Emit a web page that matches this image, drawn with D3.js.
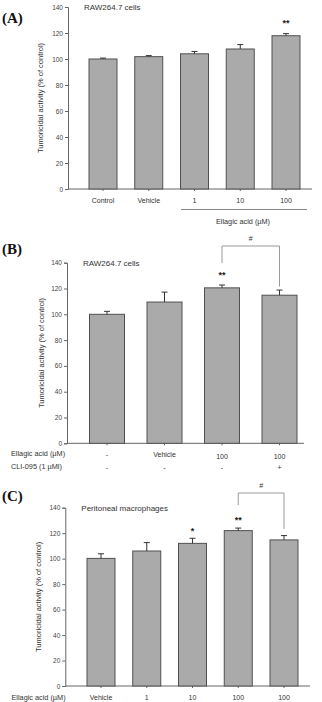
<!DOCTYPE html>
<html>
<head>
<meta charset="utf-8">
<script src="https://cdn.jsdelivr.net/npm/d3@7"></script>
<style>
  body { margin: 0; background: #fff; }
  svg { display: block; font-family: "Liberation Sans", Arial, sans-serif; }
</style>
</head>
<body>
<script>
/* global d3 */

// values
const yTicks = [0, 20, 40, 60, 80, 100, 120, 140];

const aLabels = ['Control', 'Vehicle', '1', '10', '100'];
const aMeans = [100, 101.8, 104, 107.7, 117.9];
const aErrors = [0.7, 0.8, 1.8, 3.4, 1.6];
const aSignif = ['', '', '', '', '**'];

const bEllagic = ['-', 'Vehicle', '100', '100'];
const bCli = ['-', '-', '-', '+'];
const bMeans = [100, 109.5, 120.5, 114.8];
const bErrors = [2.3, 7.7, 2.2, 4];
const bSignif = ['', '', '**', ''];

const cLabels = ['Vehicle', '1', '10', '100', '100'];
const cMeans = [100.2, 106, 112, 122, 114.7];
const cErrors = [3.6, 6.6, 4, 2, 3.4];
const cSignif = ['', '', '*', '**', ''];

const axisTitle = 'Tumoricidal activity (% of control)';

const svg = d3.select('body').append('svg')
  .attr('width', 322)
  .attr('height', 702);

function drawPanel(p) {
  const g = svg.append('g');
  const n = p.means.length;
  const y = d3.scaleLinear().domain([0, 140]).range([p.y0, p.y140]);
  const x = d3.scalePoint().domain(d3.range(n)).range([p.firstX, p.lastX]);

  // panel letter and cell label
  g.append('text')
    .attr('x', 2).attr('y', p.letterY)
    .attr('font-family', '"Liberation Serif", "Times New Roman", serif')
    .attr('font-weight', 'bold').attr('font-size', 15)
    .attr('fill', '#111')
    .text(p.letter);
  g.append('text')
    .attr('x', p.axisX + 16).attr('y', p.titleY)
    .attr('font-size', 8).attr('fill', '#333')
    .text(p.title);

  // y axis
  const yAxis = d3.axisLeft(y).tickValues(yTicks).tickSize(3).tickPadding(2);
  g.append('g')
    .attr('transform', `translate(${p.axisX},0)`)
    .call(yAxis)
    .call(s => s.select('.domain').attr('stroke', '#666'))
    .call(s => s.selectAll('.tick line').attr('stroke', '#666'))
    .call(s => s.selectAll('.tick text')
      .attr('font-size', 6.5).attr('fill', '#444')
      .attr('font-family', '"Liberation Sans", Arial, sans-serif'));

  g.append('text')
    .attr('transform', `translate(${p.yTitleX},${(p.y0 + p.y140) / 2}) rotate(-90)`)
    .attr('text-anchor', 'middle')
    .attr('font-size', 7.5).attr('fill', '#333')
    .text(axisTitle);

  // x axis line with small ticks under bar centres
  g.append('line')
    .attr('x1', p.axisX).attr('x2', p.axisEnd)
    .attr('y1', p.y0).attr('y2', p.y0)
    .attr('stroke', '#666');
  g.selectAll('line.xtick').data(d3.range(n)).enter().append('line')
    .attr('class', 'xtick')
    .attr('x1', x).attr('x2', x)
    .attr('y1', p.y0).attr('y2', p.y0 + 2)
    .attr('stroke', '#666');

  // bars
  g.selectAll('rect.bar').data(p.means).enter().append('rect')
    .attr('class', 'bar')
    .attr('x', (d, i) => x(i) - p.barWidth / 2)
    .attr('width', p.barWidth)
    .attr('y', d => y(d))
    .attr('height', d => y(0) - y(d))
    .attr('fill', '#aaaaaa')
    .attr('stroke', '#505050')
    .attr('stroke-width', 1);

  // upper error bars
  const err = g.selectAll('g.err').data(p.means).enter().append('g')
    .attr('class', 'err');
  err.append('line')
    .attr('x1', (d, i) => x(i)).attr('x2', (d, i) => x(i))
    .attr('y1', d => y(d)).attr('y2', (d, i) => y(d + p.errors[i]))
    .attr('stroke', '#333');
  err.append('line')
    .attr('x1', (d, i) => x(i) - 3).attr('x2', (d, i) => x(i) + 3)
    .attr('y1', (d, i) => y(d + p.errors[i])).attr('y2', (d, i) => y(d + p.errors[i]))
    .attr('stroke', '#333');

  // significance marks, placed a set gap above each error cap
  g.selectAll('text.sig').data(p.signif).enter().append('text')
    .attr('class', 'sig')
    .attr('x', (d, i) => x(i))
    .attr('y', (d, i) => y(p.means[i] + p.errors[i]) - p.sigGap[i])
    .attr('text-anchor', 'middle')
    .attr('font-size', 9).attr('font-weight', 'bold').attr('fill', '#222')
    .text(d => d);

  // comparison bracket
  if (p.bracket) {
    const [i, j] = p.bracket.pair;
    const top = p.bracket.top;
    g.append('path')
      .attr('d', `M${x(i)},${p.bracket.leftBottom}V${top}H${x(j)}V${p.bracket.rightBottom}`)
      .attr('fill', 'none').attr('stroke', '#999').attr('stroke-width', 1);
    g.append('text')
      .attr('x', (x(i) + x(j)) / 2).attr('y', top - 5)
      .attr('text-anchor', 'middle')
      .attr('font-size', 7).attr('fill', '#333')
      .text('#');
  }

  return { g, x, y };
}

// (A)
const pa = drawPanel({
  letter: '(A)', letterY: 23, title: 'RAW264.7 cells', titleY: 9.5,
  means: aMeans, errors: aErrors, signif: aSignif, sigGap: [0, 0, 0, 0, 8],
  y0: 189, y140: 7, axisX: 68, axisEnd: 312,
  firstX: 103, lastX: 286, barWidth: 28, yTitleX: 42.5
});
pa.g.selectAll('text.xl').data(aLabels).enter().append('text')
  .attr('x', (d, i) => pa.x(i)).attr('y', 202.5)
  .attr('text-anchor', 'middle').attr('font-size', 7).attr('fill', '#333')
  .text(d => d);
pa.g.append('line')
  .attr('x1', 181).attr('x2', 307).attr('y1', 209.5).attr('y2', 209.5)
  .attr('stroke', '#888');
pa.g.append('text')
  .attr('x', 243).attr('y', 224)
  .attr('text-anchor', 'middle').attr('font-size', 7.3).attr('fill', '#333')
  .text('Ellagic acid (\u00b5M)');

// (B)
const pb = drawPanel({
  letter: '(B)', letterY: 254, title: 'RAW264.7 cells', titleY: 266,
  means: bMeans, errors: bErrors, signif: bSignif, sigGap: [0, 0, 7, 0],
  y0: 443.3, y140: 262.7, axisX: 67, axisEnd: 304,
  firstX: 107, lastX: 279.5, barWidth: 35, yTitleX: 44,
  bracket: { pair: [2, 3], top: 246, leftBottom: 263, rightBottom: 286.5 }
});
pb.g.append('text')
  .attr('x', 11).attr('y', 456).attr('font-size', 7.3).attr('fill', '#333')
  .text('Ellagic acid (\u00b5M)');
pb.g.append('text')
  .attr('x', 11).attr('y', 469).attr('font-size', 7.3).attr('fill', '#333')
  .text('CLI-095 (1 \u00b5Ml)');
pb.g.selectAll('text.r1').data(bEllagic).enter().append('text')
  .attr('x', (d, i) => pb.x(i)).attr('y', (d, i) => (i >= 2 ? 459 : 457))
  .attr('text-anchor', 'middle').attr('font-size', 7).attr('fill', '#333')
  .text(d => d);
pb.g.selectAll('text.r2').data(bCli).enter().append('text')
  .attr('x', (d, i) => pb.x(i)).attr('y', 470)
  .attr('text-anchor', 'middle').attr('font-size', 7).attr('fill', '#333')
  .text(d => d);

// (C)
const pc = drawPanel({
  letter: '(C)', letterY: 501, title: 'Peritoneal macrophages', titleY: 511,
  means: cMeans, errors: cErrors, signif: cSignif, sigGap: [0, 0, 4, 5, 0],
  y0: 686, y140: 507.7, axisX: 65.3, axisEnd: 310,
  firstX: 101, lastX: 284, barWidth: 28, yTitleX: 40.5,
  bracket: { pair: [3, 4], top: 493, leftBottom: 505, rightBottom: 529 }
});
pc.g.append('text')
  .attr('x', 11.5).attr('y', 700).attr('font-size', 7.3).attr('fill', '#333')
  .text('Ellagic acid (\u00b5M)');
pc.g.selectAll('text.xl').data(cLabels).enter().append('text')
  .attr('x', (d, i) => pc.x(i)).attr('y', 700)
  .attr('text-anchor', 'middle').attr('font-size', 7).attr('fill', '#333')
  .text(d => d);
</script>
</body>
</html>
